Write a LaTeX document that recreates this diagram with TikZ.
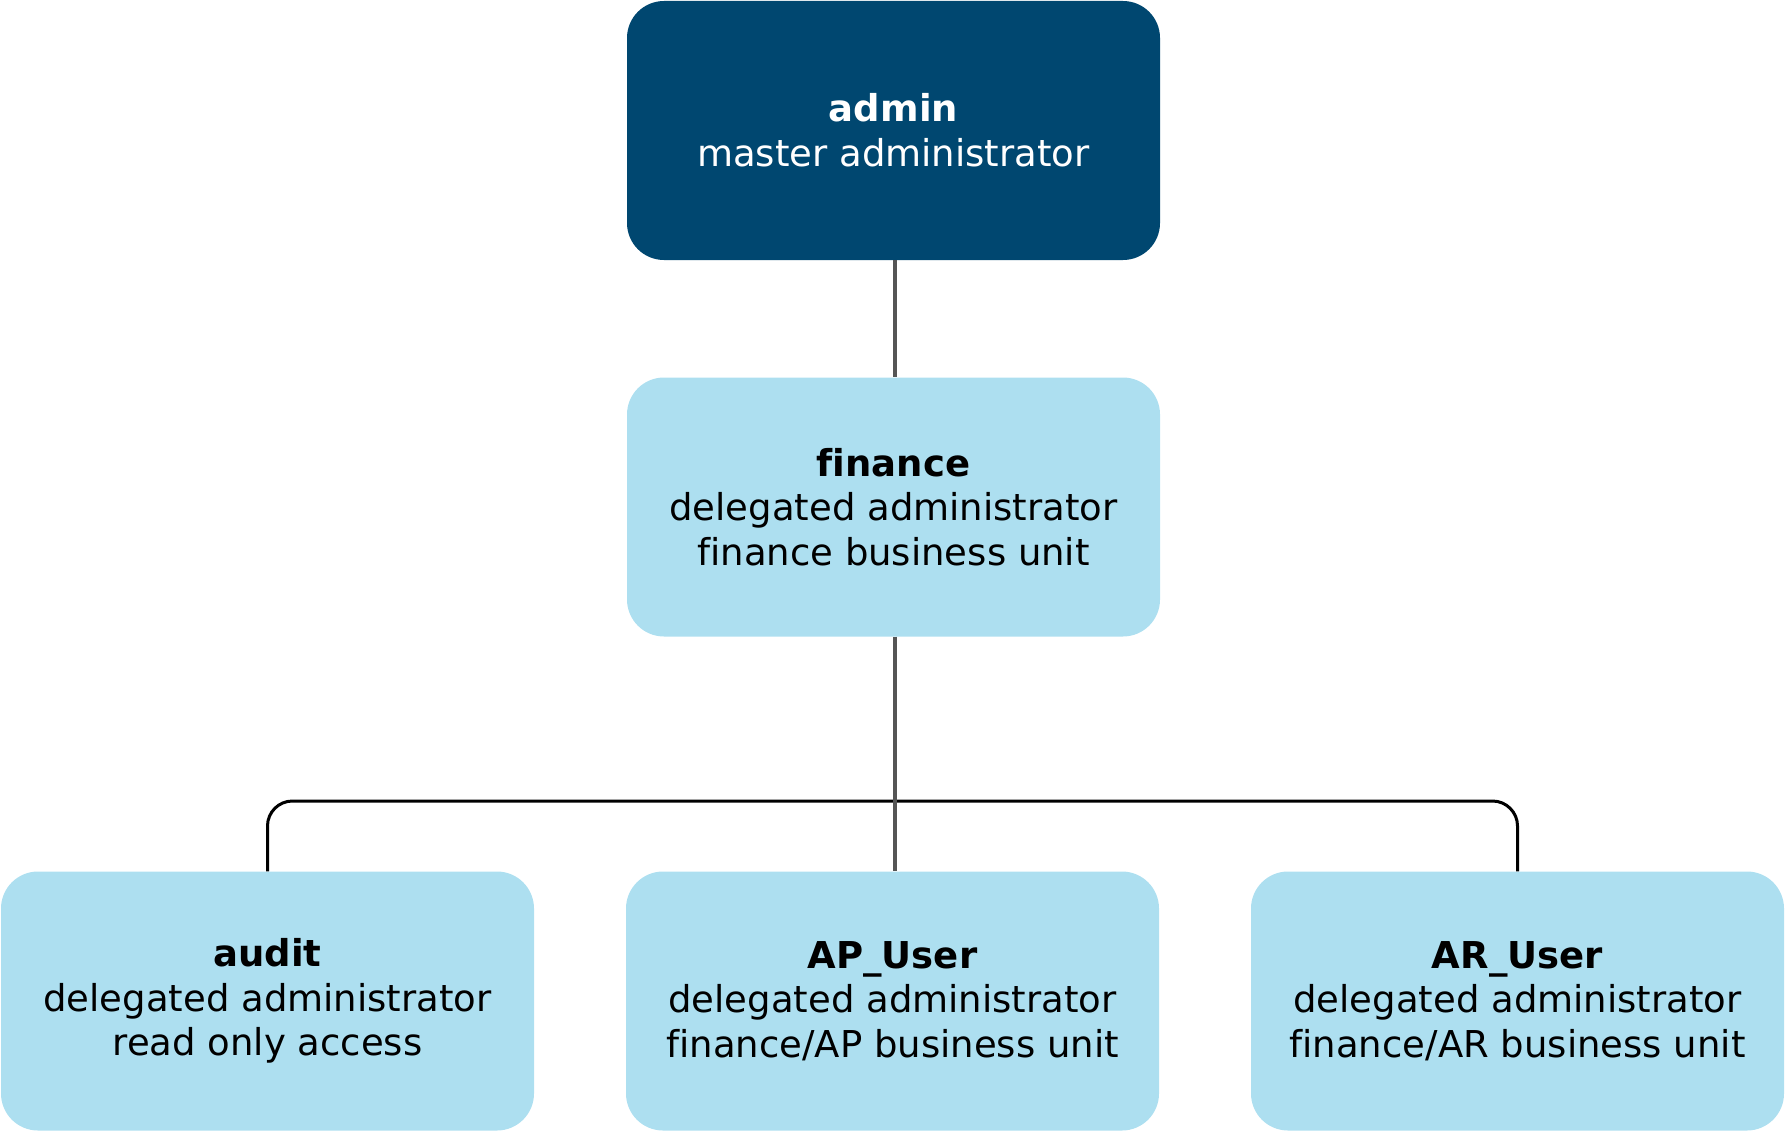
\documentclass[tikz,border=0pt]{standalone}
\usepackage{fontspec}
\setmainfont[Ligatures=NoCommon]{DejaVu Sans}
\definecolor{darkblue}{RGB}{0,71,112}
\definecolor{lightblue}{RGB}{173,223,240}
\definecolor{linegray}{RGB}{85,85,85}
\begin{document}
\begin{tikzpicture}[x=1pt, y=-1pt,
                    every node/.style={rounded corners=37pt, inner sep=0pt, align=center,
                                       minimum width=533pt, minimum height=259pt,
                                       font=\fontsize{37}{44.6}\selectfont},
                    master/.style={fill=darkblue, text=white},
                    delegated/.style={fill=lightblue, text=black},
                    stem/.style={draw=linegray, line width=4.5pt},
                    bracket/.style={draw=black, line width=3pt, rounded corners=25pt}
                    ]
                    \useasboundingbox (0,0) rectangle (1785,1132);
                    \coordinate (bar) at (895,801);

                    \node[master] (admin) at (893.5,130.5) {\textbf{admin}\\master administrator};
                    \node[delegated] (finance) at (893.5,507) {\textbf{finance}\\delegated administrator\\finance business unit};
                    \node[delegated] (audit) at (267.5,1001) {\textbf{audit}\\delegated administrator\\read only access};
                    \node[delegated] (apuser) at (892.5,1001) {\textbf{AP\_User}\\delegated administrator\\finance/AP business unit};
                    \node[delegated] (aruser) at (1517.5,1001) {\textbf{AR\_User}\\delegated administrator\\finance/AR business unit};

                    \draw[bracket] (audit.north) |- (bar) -| (aruser.north);
                    \foreach \i/\j in {admin/finance,finance/apuser}{
                        \draw[stem] (\i.south -| bar) -- (\j.north -| bar);
                    }
                \end{tikzpicture}
\end{document}
